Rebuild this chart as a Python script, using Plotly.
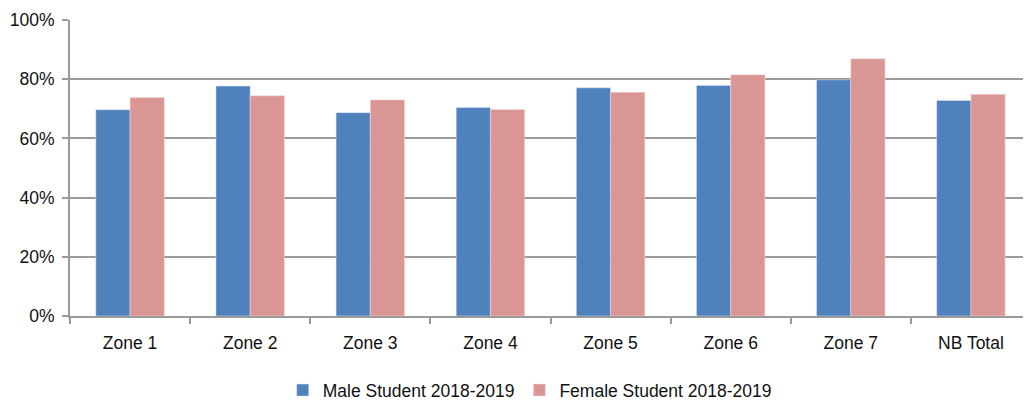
import plotly.graph_objects as go

# chart data
zones = ["Zone 1", "Zone 2", "Zone 3", "Zone 4", "Zone 5", "Zone 6", "Zone 7", "NB Total"]
male_2018_2019 = [0.697, 0.777, 0.687, 0.704, 0.771, 0.779, 0.798, 0.728]
female_2018_2019 = [0.738, 0.744, 0.730, 0.698, 0.756, 0.815, 0.869, 0.749]
y_ticks = [0, 0.2, 0.4, 0.6, 0.8, 1.0]

# styles
font_family = "Liberation Sans, Arial, sans-serif"
grid_color = "#9a9a9a"
male_color = "#4F81BD"
female_color = "#D99694"

fig = go.Figure()

fig.add_trace(go.Bar(
    x=zones,
    y=male_2018_2019,
    name="Male Student 2018-2019",
    marker=dict(color=male_color, line=dict(width=0.5, color="#dfe8f3")),
))

fig.add_trace(go.Bar(
    x=zones,
    y=female_2018_2019,
    name="Female Student 2018-2019",
    marker=dict(color=female_color, line=dict(width=0.5, color="#f5e0df")),
))

# page body has an 8px margin, so the figure is a bit smaller than the window
fig.update_layout(
    width=1023,
    height=394,
    barmode="group",
    bargap=0.43,
    bargroupgap=0,
    plot_bgcolor="white",
    paper_bgcolor="white",
    margin=dict(l=62, r=0, t=12, b=86),
    font=dict(family=font_family, size=17.5, color="#111111"),
    xaxis=dict(
        showline=True,
        linecolor=grid_color,
        linewidth=2,
        ticks="outside",
        tickson="boundaries",
        ticklen=6,
        tickcolor=grid_color,
        tickwidth=2,
        ticklabelstandoff=10,
        showgrid=False,
        automargin=False,
    ),
    yaxis=dict(
        range=[0, 1],
        tickvals=y_ticks,
        tickformat=".0%",
        showline=True,
        linecolor=grid_color,
        linewidth=2,
        ticks="outside",
        ticklen=6,
        tickcolor=grid_color,
        tickwidth=2,
        ticklabelstandoff=4,
        gridcolor=grid_color,
        gridwidth=1.5,
        zeroline=False,
        automargin=False,
    ),
    legend=dict(
        orientation="h",
        x=0.51,
        xanchor="center",
        xref="container",
        y=0.03,
        yanchor="middle",
        yref="container",
        font=dict(size=17.5),
        itemwidth=30,
    ),
)

fig.write_html("out.html")
